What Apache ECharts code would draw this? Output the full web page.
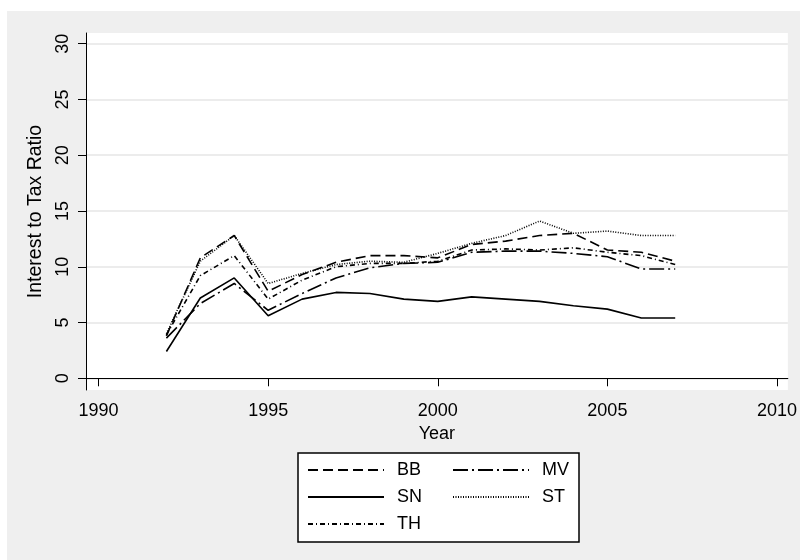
<!DOCTYPE html>
<html>
<head>
<meta charset="utf-8">
<script src="https://cdn.jsdelivr.net/npm/echarts@6/dist/echarts.min.js"></script>
<style>
html, body { margin: 0; padding: 0; background: #fff; }
#main { width: 800px; height: 560px; }
</style>
</head>
<body>
<div id="main"></div>
<script>
// years and series values
var years = [1992, 1993, 1994, 1995, 1996, 1997, 1998, 1999, 2000, 2001, 2002, 2003, 2004, 2005, 2006, 2007];
var bb = [3.8, 10.8, 12.8, 7.8, 9.3, 10.4, 11.0, 11.0, 10.8, 12.0, 12.3, 12.8, 13.0, 11.5, 11.3, 10.5];
var mv = [3.6, 6.7, 8.5, 6.1, 7.6, 9.0, 9.9, 10.3, 10.4, 11.3, 11.4, 11.4, 11.2, 10.9, 9.8, 9.8];
var sn = [2.4, 7.2, 9.0, 5.6, 7.1, 7.7, 7.6, 7.1, 6.9, 7.3, 7.1, 6.9, 6.5, 6.2, 5.4, 5.4];
var st = [4.0, 10.5, 12.8, 8.5, 9.4, 10.2, 10.5, 10.4, 11.2, 12.1, 12.8, 14.1, 13.0, 13.2, 12.8, 12.8];
var th = [3.9, 9.2, 11.0, 7.1, 8.8, 10.0, 10.3, 10.3, 10.5, 11.5, 11.6, 11.5, 11.7, 11.3, 11.0, 10.2];

var xTicks = [1990, 1995, 2000, 2005, 2010];
var yTicks = [0, 5, 10, 15, 20, 25, 30];

var font = 'Liberation Sans';

function pairs(vals) {
	return years.map(function (y, i) { return [y, vals[i]]; });
}

function mkSeries(name, vals, dash) {
	return {
		name: name,
		type: 'line',
		data: pairs(vals),
		symbol: 'none',
		color: '#000',
		lineStyle: { color: '#000', width: 1.6, type: dash },
		emphasis: { disabled: true },
		animation: false
	};
}

// one legend per entry so the 2-column box can be placed like the original
function mkLegend(name, left, top) {
	return {
		data: [name],
		left: left,
		top: top,
		padding: 0,
		itemWidth: 76,
		itemHeight: 14,
		selectedMode: false,
		itemStyle: { opacity: 0 },
		textStyle: { fontFamily: font, fontSize: 18, color: '#000', padding: [0, 0, 0, 8] }
	};
}

var chart = echarts.init(document.getElementById('main'), null, { renderer: 'canvas' });

var option = {
	backgroundColor: '#fff',
	animation: false,
	graphic: [
		{ type: 'rect', shape: { x: 7, y: 11, width: 793, height: 549 }, style: { fill: '#efefef' }, z: -10 },
		{ type: 'rect', shape: { x: 298, y: 453, width: 281, height: 89 }, style: { fill: '#fff', stroke: '#000', lineWidth: 1.5 }, z: 0 }
	],
	grid: {
		left: 86, right: 10, top: 33, bottom: 170,
		show: true, backgroundColor: '#fff', borderWidth: 0
	},
	xAxis: {
		type: 'value',
		min: 1989.63, max: 2010.32,
		name: 'Year',
		nameLocation: 'middle',
		nameGap: 33,
		nameTextStyle: { fontFamily: font, fontSize: 18, color: '#000' },
		axisLine: { lineStyle: { color: '#000', width: 1 } },
		axisTick: { length: 8, lineStyle: { color: '#000' }, customValues: xTicks },
		axisLabel: {
			fontFamily: font, fontSize: 18, color: '#000', margin: 12, customValues: xTicks,
			formatter: function (v) { return String(v); }
		},
		splitLine: { show: false }
	},
	yAxis: {
		type: 'value',
		min: -1.05, max: 30.96,
		name: 'Interest to Tax Ratio',
		nameLocation: 'middle',
		nameGap: 32,
		nameTextStyle: { fontFamily: font, fontSize: 19.5, color: '#000' },
		axisLine: { show: true, lineStyle: { color: '#000', width: 1 } },
		axisTick: { show: true, length: 8, lineStyle: { color: '#000' }, customValues: yTicks },
		axisLabel: { fontFamily: font, fontSize: 18, color: '#000', rotate: 90, margin: 14, customValues: yTicks },
		splitLine: { show: true, lineStyle: { color: '#e6e6e6', width: 1.5 } }
	},
	legend: [
		mkLegend('BB', 307, 461),
		mkLegend('MV', 452, 461),
		mkLegend('SN', 307, 488),
		mkLegend('ST', 452, 488),
		mkLegend('TH', 307, 515)
	],
	series: [
		mkSeries('BB', bb, [10, 5]),
		mkSeries('MV', mv, [15, 4, 2, 4]),
		mkSeries('SN', sn, 'solid'),
		mkSeries('ST', st, [1, 1.5]),
		mkSeries('TH', th, [5, 3, 1, 3])
	]
};

chart.setOption(option);
</script>
</body>
</html>
